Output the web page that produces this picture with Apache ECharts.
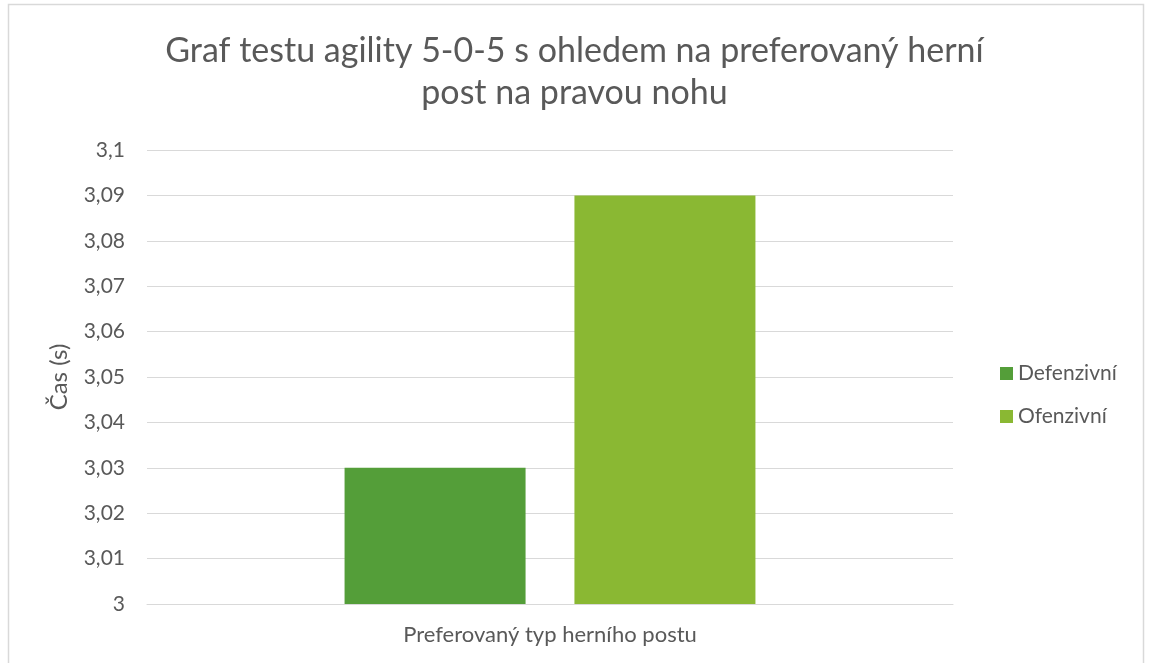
<!DOCTYPE html>
<html>
<head>
<meta charset="utf-8">
<script src="https://cdn.jsdelivr.net/npm/echarts@6/dist/echarts.min.js"></script>
<style>
  html, body { margin: 0; padding: 0; background: #fff; }
  #main { width: 1149px; height: 663px; }
</style>
</head>
<body>
<div id="main"></div>
<script>
var categories = ['Preferovaný typ herního postu']
var defenzivni = [3.03]
var ofenzivni = [3.09]
var yMin = 3
var yMax = 3.1
var yStep = 0.01

var textColor = '#595959'
var font = 'Lato, "Open Sans", sans-serif'

var chart = echarts.init(document.getElementById('main'))
var option = {
  animation: false,
  textStyle: { fontFamily: font },
  title: {
    text: 'Graf testu agility 5-0-5 s ohledem na preferovaný herní\npost na pravou nohu',
    left: 'center',
    top: 25,
    textStyle: {
      fontFamily: font,
      fontSize: 34,
      fontWeight: 'normal',
      color: textColor,
      lineHeight: 42,
    },
  },
  legend: {
    orient: 'vertical',
    left: 995,
    top: 358,
    itemWidth: 13,
    itemHeight: 13,
    itemGap: 22,
    icon: 'rect',
    textStyle: { fontSize: 21, color: textColor, fontFamily: font },
    data: ['Defenzivní', 'Ofenzivní'],
  },
  grid: {
    left: 147,
    right: 196,
    top: 150,
    bottom: 59,
  },
  xAxis: {
    type: 'category',
    data: categories,
    axisLine: { lineStyle: { color: '#d9d9d9', width: 1 } },
    axisTick: { show: false },
    axisLabel: { color: textColor, fontSize: 22, margin: 20 },
  },
  yAxis: {
    type: 'value',
    min: yMin,
    max: yMax,
    interval: yStep,
    name: 'Čas (s)',
    nameLocation: 'middle',
    nameGap: 76,
    nameTextStyle: { fontSize: 24, color: textColor },
    axisLine: { show: false },
    axisTick: { show: false },
    axisLabel: {
      color: textColor,
      fontSize: 21,
      margin: 22,
      formatter: function (v) {
        return String(parseFloat(v.toFixed(2))).replace('.', ',')
      },
    },
    splitLine: { lineStyle: { color: '#d9d9d9', width: 1 } },
  },
  series: [
    {
      name: 'Defenzivní',
      type: 'bar',
      data: defenzivni,
      barWidth: 181,
      barGap: '27%',
      itemStyle: { color: '#549E39' },
    },
    {
      name: 'Ofenzivní',
      type: 'bar',
      data: ofenzivni,
      barWidth: 181,
      barGap: '27%',
      itemStyle: { color: '#8AB833' },
    },
  ],
  graphic: [
    {
      type: 'rect',
      silent: true,
      shape: { x: 8.5, y: 4.5, width: 1135, height: 700 },
      style: { fill: 'none', stroke: '#d9d9d9', lineWidth: 1.5 },
    },
  ],
}
chart.setOption(option)
</script>
</body>
</html>
